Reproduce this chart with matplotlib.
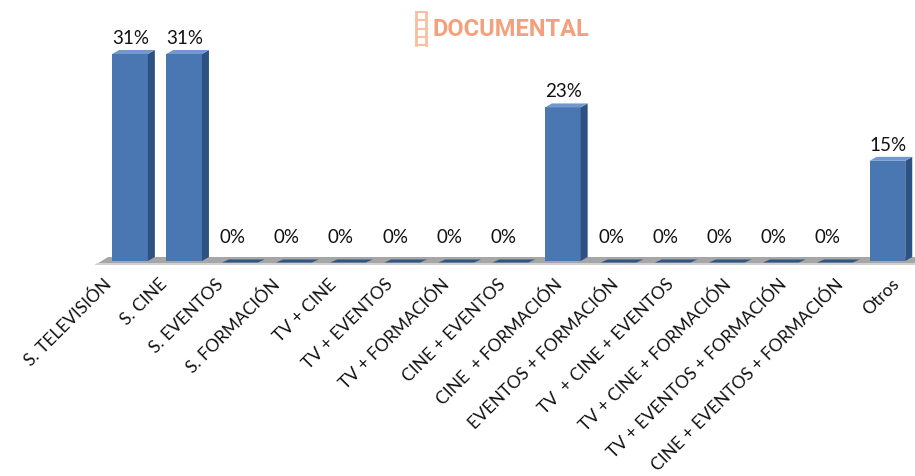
import matplotlib.pyplot as plt
from matplotlib.patches import Polygon
import numpy as np

# Data
categories = ['S. TELEVISIÓN', 'S. CINE', 'S. EVENTOS', 'S. FORMACIÓN', 'TV + CINE',
              'TV + EVENTOS', 'TV + FORMACIÓN', 'CINE + EVENTOS', 'CINE  + FORMACIÓN',
              'EVENTOS + FORMACIÓN', 'TV  + CINE + EVENTOS', 'TV + CINE + FORMACIÓN',
              'TV + EVENTOS + FORMACIÓN', 'CINE + EVENTOS + FORMACIÓN', 'Otros']
values = [31, 31, 0, 0, 0, 0, 0, 0, 23, 0, 0, 0, 0, 0, 15]

# Pixel-ish mapping: bar spacing 54.1 px, 6.68 px per percent
px_x = 54.1
px_y = 207 / 31
W, H = 915, 477
x0_px, base_px = 130, 262

fig = plt.figure(figsize=(W / 100, H / 100), dpi=100)
ax = fig.add_axes([0, 0, 1, 1])
ax.set_xlim(-x0_px / px_x, (W - x0_px) / px_x)
ax.set_ylim(-(H - base_px) / px_y, base_px / px_y)
ax.axis('off')

front = '#4a77b2'
side = '#2d5282'
top = '#7199cc'
bw = 0.66
dx = 7 / px_x
dy = 4 / px_y

# Floor
ax.add_patch(Polygon([(-35 / px_x, -4 / px_y), (785 / px_x, -4 / px_y),
                      (785 / px_x, 4 / px_y), (-22 / px_x, 4 / px_y)],
                     closed=True, facecolor='#a6a6a6', edgecolor='none', zorder=1))
ax.add_patch(Polygon([(-35 / px_x, -4 / px_y), (785 / px_x, -4 / px_y),
                      (785 / px_x, -2 / px_y), (-33 / px_x, -2 / px_y)],
                     closed=True, facecolor='#d0d0d0', edgecolor='none', zorder=1))

for i, v in enumerate(values):
    if v > 0:
        ax.bar(i, v, width=bw, bottom=0, color=front, zorder=3)
        l, r = i - bw / 2, i + bw / 2
        ax.add_patch(Polygon([(r, 0), (r + dx, dy), (r + dx, v + dy), (r, v)],
                             closed=True, facecolor=side, edgecolor='none', zorder=3))
        ax.add_patch(Polygon([(l, v), (r, v), (r + dx, v + dy), (l + dx, v + dy)],
                             closed=True, facecolor=top, edgecolor='none', zorder=3))
        ax.text(i + 0.02, v + 1.2, f'{v}%', ha='center', va='bottom', fontsize=13.5,
                family='Lato', color='#111111')
    else:
        l, r = i - bw / 2 + 0.03, i + bw / 2 + 0.03
        ax.add_patch(Polygon([(l, -1.5 / px_y), (r, -1.5 / px_y), (r + dx, 1.5 / px_y),
                              (l + dx, 1.5 / px_y)],
                             closed=True, facecolor='#2f5584', edgecolor='none', zorder=3))
        ax.text(i - 0.1, 2.4, f'{v}%', ha='center', va='bottom', fontsize=13.5,
                family='Lato', color='#111111')

# Rotated category labels (label spacing a bit wider than bars in the original)
for i, c in enumerate(categories):
    xe = (103 + i * 56.3 - x0_px) / px_x
    ax.text(xe, (base_px - 276) / px_y, c, rotation=45, rotation_mode='anchor',
            ha='right', va='top', fontsize=12.5, family='Lato', color='#111111')

# Logo
ax.text((432 - x0_px) / px_x, (base_px - 29) / px_y, 'DOCUMENTAL', ha='left', va='center',
        fontsize=17, fontweight='bold', family='Roboto', color='#f4a07c')
lx0, lx1 = (416 - x0_px) / px_x, (426 - x0_px) / px_x
ly0, ly1 = (base_px - 46) / px_y, (base_px - 13) / px_y
for xx in (lx0, lx1):
    ax.plot([xx, xx], [ly0, ly1], color='#f8bfa3', lw=2)
for yy in np.linspace(ly0, ly1, 5):
    ax.plot([lx0, lx1], [yy, yy], color='#f8bfa3', lw=1.5)

plt.savefig('out.png', dpi=100)
